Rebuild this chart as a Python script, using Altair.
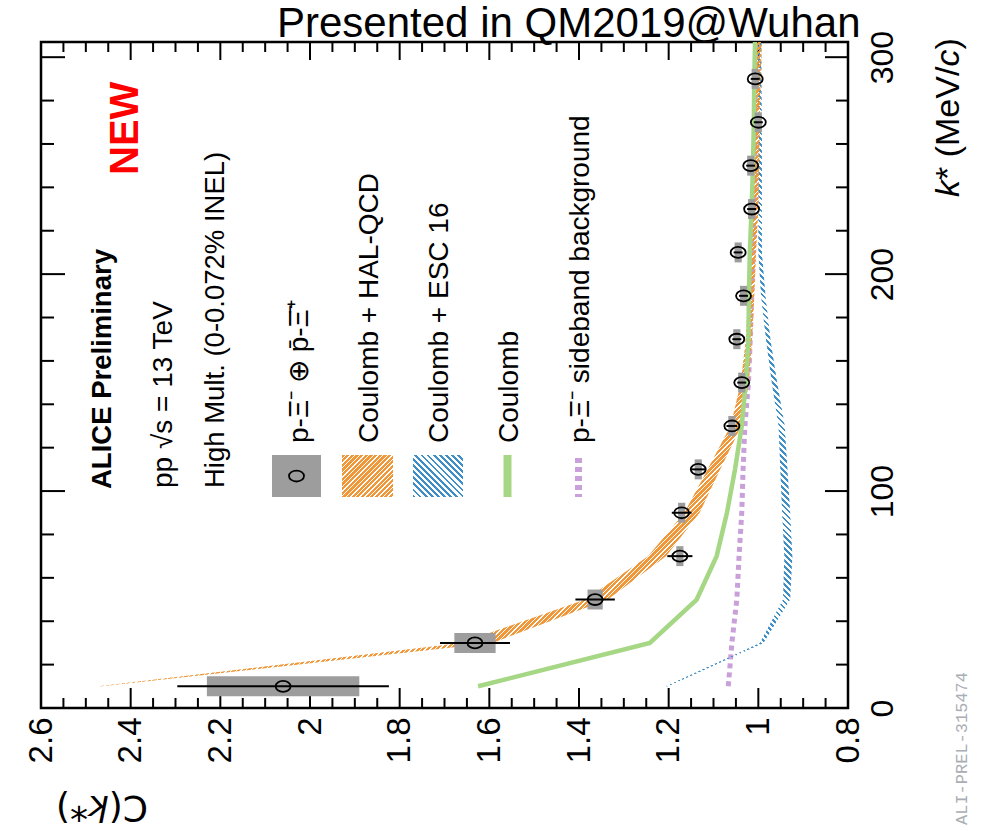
import altair as alt
import numpy as np
import pandas as pd

# ---------------------------------------------------------------------------
# p-Xi- (+ c.c.) correlation function, pp at 13 TeV, high multiplicity
# ---------------------------------------------------------------------------
kstar = [10, 30, 50, 70, 90, 110, 130, 150, 170, 190, 210, 230, 250, 270, 290]
c_meas = [2.060, 1.632, 1.364, 1.175, 1.171, 1.134, 1.059, 1.037, 1.048, 1.033,
          1.045, 1.015, 1.017, 1.000, 1.007]
c_stat = [0.236, 0.078, 0.044, 0.028, 0.022, 0.016, 0.012, 0.010, 0.010, 0.010,
          0.010, 0.010, 0.010, 0.010, 0.010]
c_syst = [0.170, 0.046, 0.017, 0.008, 0.008, 0.008, 0.008, 0.008, 0.008, 0.008,
          0.008, 0.008, 0.008, 0.008, 0.008]

# model predictions evaluated at the bin centres
k_model = [10, 30, 50, 70, 90, 110, 130, 150, 170, 190, 210, 230, 250, 270, 290, 310]
hal_qcd = [2.468, 1.628, 1.361, 1.226, 1.148, 1.099, 1.050, 1.030, 1.021, 1.016,
           1.012, 1.006, 1.004, 1.003, 1.001, 0.998]
hal_qcd_err = [0.004, 0.035, 0.025, 0.020, 0.017, 0.014, 0.012, 0.009, 0.007, 0.007,
               0.007, 0.006, 0.006, 0.006, 0.006, 0.006]
esc16 = [1.204, 0.9925, 0.937, 0.933, 0.938, 0.943, 0.948, 0.964, 0.978, 0.989,
         0.996, 0.996, 0.996, 0.996, 0.997, 0.997]
esc16_err = [0.003, 0.004, 0.008, 0.009, 0.009, 0.008, 0.007, 0.006, 0.005, 0.005,
             0.004, 0.004, 0.004, 0.004, 0.004, 0.004]
coulomb = [1.625, 1.242, 1.1375, 1.093, 1.070, 1.052, 1.037, 1.028, 1.022, 1.021,
           1.019, 1.015, 1.012, 1.010, 1.009, 1.007]
sideband = [1.067, 1.059, 1.048, 1.043, 1.037, 1.034, 1.030, 1.022, 1.018, 1.015,
            1.012, 1.010, 1.008, 1.007, 1.006, 1.005]

# axis ticks
c_major = [0.8, 1.0, 1.2, 1.4, 1.6, 1.8, 2.0, 2.2, 2.4, 2.6]
c_minor = [round(v, 2) for v in np.arange(0.85, 2.6, 0.05) if round(v / 0.2, 6) % 1 != 0]
k_major = [0, 100, 200, 300]
k_minor = [v for v in range(20, 307, 20) if v % 100 != 0]

# ---------------------------------------------------------------------------
# geometry / styles
# ---------------------------------------------------------------------------
W, H = 807, 666
OX, OY = 41, 42
C_MIN, C_MAX, K_MAX = 0.8, 2.6, 307
SANS = "Liberation Sans, Arial, sans-serif"
ORANGE = "#f0973a"
BLUE = "#3f8fc6"
GREEN = "#a5d785"
PINK = "#c9a0d9"
GREY = "#9d9d9d"

x_scale = alt.Scale(domain=[C_MIN, C_MAX], reverse=True, nice=False, zero=False)
y_scale = alt.Scale(domain=[0, K_MAX], nice=False, zero=False)

x_axis = alt.Axis(values=c_major, format="~g", orient="bottom", labelAngle=270,
                  labelAlign="right", labelBaseline="middle", labelPadding=9,
                  ticks=False, tickSize=0, domain=False, grid=False, title="",
                  labelFont=SANS, labelFontSize=33, labelColor="black",
                  labelOverlap=False, labelFlush=False)
y_axis = alt.Axis(values=k_major, format="d", orient="right", labelAngle=270,
                  labelAlign="center", labelBaseline="top", labelPadding=19,
                  ticks=False, tickSize=0, domain=False, grid=False, title="",
                  labelFont=SANS, labelFontSize=32, labelColor="black",
                  labelOverlap=False, labelFlush=False)


def X(field):
    return alt.X(f"{field}:Q", scale=x_scale, axis=x_axis)


def Y(field):
    return alt.Y(f"{field}:Q", scale=y_scale, axis=y_axis)


def px_c(c):
    return (C_MAX - c) / (C_MAX - C_MIN) * W


def px_k(k):
    return H - k / K_MAX * H


def hatch(color, w, h, slant, period=3.6, ink=0.6):
    """Striped linear gradient imitating a 45 degree hatch inside a w x h box."""
    lam = (w + h) / (w * w + h * h)
    a, b = lam * w, lam * h
    n = max(1, int(round((w + h) / (period * np.sqrt(2)))))
    clear = "rgba(255,255,255,0)"
    stops = []
    for i in range(n):
        t0, t1, t2 = i / n, (i + ink) / n, (i + 1) / n
        stops += [alt.GradientStop(offset=float(t0), color=color),
                  alt.GradientStop(offset=float(t1), color=color),
                  alt.GradientStop(offset=float(t1), color=clear),
                  alt.GradientStop(offset=float(t2), color=clear)]
    if slant == "/":
        return alt.LinearGradient(gradient="linear", stops=stops,
                                  x1=0, y1=0, x2=float(a), y2=float(b))
    return alt.LinearGradient(gradient="linear", stops=stops,
                              x1=0, y1=1, x2=float(a), y2=float(1 - b))


# ---------------------------------------------------------------------------
# tables
# ---------------------------------------------------------------------------
meas = pd.DataFrame({"k": kstar, "c": c_meas, "stat": c_stat, "syst": c_syst})
meas["stat_lo"] = meas.c - meas.stat
meas["stat_hi"] = meas.c + meas.stat
meas["syst_lo"] = meas.c - meas.syst
meas["syst_hi"] = meas.c + meas.syst
meas["k_lo"] = meas.k - 4.6
meas["k_hi"] = meas.k + 4.6

model = pd.DataFrame({"k": k_model, "hal": hal_qcd, "hal_err": hal_qcd_err,
                      "esc": esc16, "esc_err": esc16_err,
                      "coul": coulomb, "side": sideband})
model["hal_lo"] = model.hal - model.hal_err
model["hal_hi"] = model.hal + model.hal_err
model["esc_lo"] = model.esc - model.esc_err
model["esc_hi"] = model.esc + model.esc_err

one = pd.DataFrame({"i": [0]})


def band_box(lo, hi):
    w = px_c(min(lo)) - px_c(max(hi))
    h = px_k(min(k_model)) - px_k(max(k_model))
    return w, h


# ---------------------------------------------------------------------------
# layers
# ---------------------------------------------------------------------------
layers = []


# frame ticks pointing into the plot
def k_ticks(values, length):
    d = pd.DataFrame({"v": values})
    right = alt.Chart(d).mark_rule(color="black", strokeWidth=2).encode(
        y=Y("v"), x=alt.value(W), x2=alt.value(W - length))
    left = alt.Chart(d).mark_rule(color="black", strokeWidth=2).encode(
        y=Y("v"), x=alt.value(0), x2=alt.value(length + 1))
    return [right, left]


def c_ticks(values, bottom_len, top_len):
    d = pd.DataFrame({"v": values})
    bottom = alt.Chart(d).mark_rule(color="black", strokeWidth=2).encode(
        x=X("v"), y=alt.value(H), y2=alt.value(H - bottom_len))
    top = alt.Chart(d).mark_rule(color="black", strokeWidth=2).encode(
        x=X("v"), y=alt.value(0), y2=alt.value(top_len))
    return [bottom, top]


layers += k_ticks(k_major, 23) + k_ticks(k_minor, 12)
layers += c_ticks(c_major, 20, 18) + c_ticks(c_minor, 10, 10)

# sideband background
layers.append(alt.Chart(model).mark_line(color=PINK, strokeWidth=5, strokeDash=[5, 4],
                                         strokeCap="butt", clip=True).encode(
    x=X("side"), y=Y("k"), order="k:Q"))

# Coulomb + ESC16 band
w_b, h_b = band_box(model.esc_lo, model.esc_hi)
layers.append(alt.Chart(model).mark_area(orient="horizontal", clip=True,
                                         fill=hatch(BLUE, w_b, h_b, "\\", 4.2, 0.45)).encode(
    y=Y("k"), x=X("esc_lo"), x2="esc_hi:Q"))

# Coulomb + HAL-QCD band
w_o, h_o = band_box(model.hal_lo, model.hal_hi)
layers.append(alt.Chart(model).mark_area(orient="horizontal", clip=True,
                                         fill=hatch(ORANGE, w_o, h_o, "/", 3.3, 0.68)).encode(
    y=Y("k"), x=X("hal_lo"), x2="hal_hi:Q"))

# Coulomb only
layers.append(alt.Chart(model).mark_line(color=GREEN, strokeWidth=4.5, clip=True).encode(
    x=X("coul"), y=Y("k"), order="k:Q"))

# data: systematic boxes, statistical bars, markers (open ellipse)
K = 0.5523
ELLIPSE = (f"M-1,0C-1,{-0.73 * K:.4f},{-K:.4f},-0.73,0,-0.73"
           f"C{K:.4f},-0.73,1,{-0.73 * K:.4f},1,0"
           f"C1,{0.73 * K:.4f},{K:.4f},0.73,0,0.73"
           f"C{-K:.4f},0.73,-1,{0.73 * K:.4f},-1,0Z")
layers.append(alt.Chart(meas).mark_rect(color=GREY, opacity=1).encode(
    x=X("syst_lo"), x2="syst_hi:Q", y=Y("k_lo"), y2="k_hi:Q"))
layers.append(alt.Chart(meas).mark_rule(color="black", strokeWidth=2).encode(
    x=X("stat_lo"), x2="stat_hi:Q", y=Y("k")))
layers.append(alt.Chart(meas).mark_point(shape=ELLIPSE, size=225, filled=False,
                                         stroke="black", strokeWidth=1.8, opacity=1).encode(
    x=X("c"), y=Y("k")))


# ---------------------------------------------------------------------------
# legend and annotations (page pixel positions)
# ---------------------------------------------------------------------------
def text(s, x, y, size, angle=270, font=SANS, weight="normal", style="normal",
         color="black", align="left", baseline="alphabetic"):
    return alt.Chart(one).mark_text(text=s, angle=angle, align=align, baseline=baseline,
                                    font=font, fontSize=size, fontWeight=weight,
                                    fontStyle=style, color=color).encode(
        x=alt.value(x - OX), y=alt.value(y - OY))


def box(x0, x1, y0, y1, fill):
    return alt.Chart(one).mark_rect(fill=fill, strokeWidth=0).encode(
        x=alt.value(x0 - OX), x2=alt.value(x1 - OX),
        y=alt.value(y0 - OY), y2=alt.value(y1 - OY))


# legend symbols
layers.append(box(272, 321, 455, 497, GREY))
layers.append(alt.Chart(one).mark_point(shape=ELLIPSE, size=225, filled=False,
                                        stroke="black", strokeWidth=1.8, opacity=1).encode(
    x=alt.value(296.5 - OX), y=alt.value(476 - OY)))
layers.append(box(342, 393, 455, 497, hatch(ORANGE, 51, 42, "/", 3.3, 0.68)))
layers.append(box(413, 463, 455, 497, hatch(BLUE, 50, 42, "\\", 4.2, 0.45)))
layers.append(alt.Chart(one).mark_rule(color=GREEN, strokeWidth=8).encode(
    x=alt.value(507.5 - OX), y=alt.value(455 - OY), y2=alt.value(497 - OY)))
layers.append(alt.Chart(one).mark_rule(color=PINK, strokeWidth=7, strokeDash=[5, 4],
                                       strokeCap="butt").encode(
    x=alt.value(578.5 - OX), y=alt.value(458 - OY), y2=alt.value(497 - OY)))

# legend labels
layers.append(text("p-Ξ⁻ ⊕ p̄-Ξ̄⁺", 308, 443, 28))
layers.append(text("Coulomb + HAL-QCD", 378, 443, 28))
layers.append(text("Coulomb + ESC 16", 448, 443, 28))
layers.append(text("Coulomb", 518, 443, 28))
layers.append(text("p-Ξ⁻ sideband background", 589, 443, 28))

# header
layers.append(text("ALICE Preliminary", 111, 489, 27.5, weight="bold"))
layers.append(text("pp √s = 13 TeV", 172, 488, 28))
layers.append(text("High Mult. (0-0.072% INEL)", 224, 488, 27.5))
layers.append(text("NEW", 138, 175, 40, weight="bold", color="#ff0000"))

# axis titles
layers.append(text("k", 959, 197, 34, style="italic"))
layers.append(text("* (MeV/", 959, 180, 34))
layers.append(text("c", 959, 66.6, 34, style="italic"))
layers.append(text(")", 959, 49.6, 34))
layers.append(text("C(", 148, 796, 36, angle=180, font="DejaVu Sans"))
layers.append(text("k", 108.9, 796, 36, angle=180, font="DejaVu Sans", style="italic"))
layers.append(text("*)", 88.1, 796, 36, angle=180, font="DejaVu Sans"))

# figure id and conference tag
layers.append(text("ALI-PREL-315474", 967, 825, 17, font="Liberation Mono", color="#a9aeb4"))
layers.append(text("Presented in QM2019@Wuhan", 277, 37, 42, angle=0, font=SANS))

chart = alt.layer(*layers).properties(
    width=W, height=H,
    autosize=alt.AutoSizeParams(type="none"),
    padding={"left": OX, "top": OY, "right": 982 - OX - W, "bottom": 831 - OY - H},
    background="white",
).configure_view(stroke="black", strokeWidth=2.5)

chart.save("out.html", embed_options={"renderer": "svg", "actions": False})
